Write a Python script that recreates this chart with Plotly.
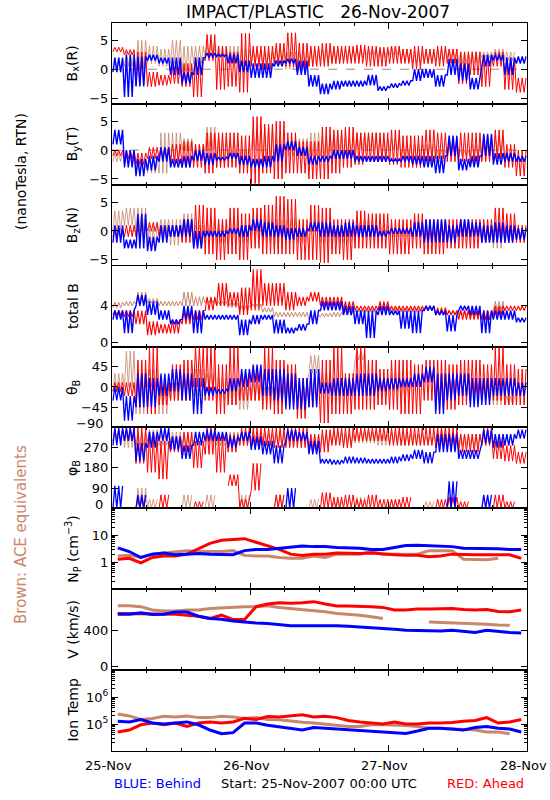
import plotly.graph_objects as go
from plotly.subplots import make_subplots

# ---------------- data (2-hour bins starting 25-Nov-2007 00:00 UTC) ----------------
BIN_HOURS = 2
TICK_HOURS = [0, 24, 48, 72]
TICK_LABELS = ["25-Nov", "26-Nov", "27-Nov", "28-Nov"]

# Bx(R)
bx_red_lo = [3.0, 2.5, -2.8, -3.0, -2.8, -2.5, -3.0, -4.8, 1.5, -3.5, -3.0, -4.0, 0.5, 0.0, 1.0, 0.5, 0.0, 0.5,
             0.5, 1.0, 1.0, 1.0, 0.5, 0.5, 1.0, 1.0, 0.0, 1.0, 0.5, 1.0, -2.5, -1.0, -3.0, 0.5, -3.5, -4.0]
bx_red_hi = [3.8, 3.4, 3.0, -0.5, -1.0, 0.5, 1.0, 2.0, 6.0, 4.0, 3.0, 6.2, 4.0, 4.0, 4.5, 6.3, 4.5, 4.0,
             4.5, 4.0, 4.0, 4.2, 4.0, 3.8, 4.0, 3.5, 4.0, 3.5, 4.0, 3.5, 3.0, 3.0, 2.5, 3.0, 2.0, -1.5]
bx_blue_lo = [-0.5, -4.8, -3.0, 1.5, 1.0, -1.0, -2.5, -1.0, 2.0, 2.2, 1.0, -0.5, -1.5, -1.5, 0.5, 1.0, -1.0, -3.0,
              -4.3, -3.5, -3.0, -3.0, -2.8, -3.7, -3.2, -2.8, -2.0, -1.5, -3.0, -1.0, -2.0, -3.5, 0.5, 1.5, -1.0, 1.0]
bx_blue_hi = [2.0, 2.5, 2.2, 2.5, 2.0, 2.0, -0.5, 2.0, 2.8, 2.6, 2.6, 1.5, 1.0, 1.0, 1.5, 1.8, 1.5, -1.0,
              -2.5, -2.0, -2.0, -2.0, -1.0, -3.0, -2.5, -2.0, 0.0, 0.0, -1.0, 1.8, 1.0, -1.5, 2.5, 2.5, 2.0, 2.2]
bx_brown_lo = [-0.5, 0.5, 0.0, 1.0, 0.5, 1.0, -0.5, 1.0, 2.0, 2.0, 1.5, 0.5, 1.0, 0.0, 0.5, 0.0, 0.0, 0.5,
               1.5, 1.0, 1.5, 2.0, 2.5, 2.0, 2.5, 1.5, 1.0, 1.0, 1.5, 2.0, 1.0, 1.0, 2.0, 2.0, 1.5, None]
bx_brown_hi = [2.0, 3.0, 5.0, 4.0, 3.5, 5.0, 4.0, 4.0, 4.5, 4.0, 4.0, 3.5, 3.5, 3.0, 3.5, 3.0, 3.0, 3.5,
               3.5, 3.5, 3.5, 3.5, 3.5, 3.5, 4.0, 3.5, 3.0, 3.0, 3.5, 3.5, 3.0, 3.0, 3.0, 3.5, 3.0, None]

# By(T)
by_red_lo = [-1.0, -1.5, -2.5, -1.5, -1.5, -2.0, -3.0, -3.0, -4.0, -3.0, -3.0, -4.0, -5.8, -4.0, -5.0, -4.0, -4.0, -5.0,
             -5.0, -4.0, -3.0, -2.5, -2.0, -2.0, -2.5, -3.0, -3.0, -2.0, -1.5, -2.0, -2.0, -2.5, -2.0, -1.5, -3.0, -4.5]
by_red_hi = [0.0, 0.0, -0.5, 0.5, 0.5, 1.0, 1.5, 1.0, 3.0, 3.0, 3.0, 2.5, 5.8, 4.5, 5.0, 3.0, 1.5, 1.5,
             4.0, 3.5, 4.0, 3.0, 3.0, 3.0, 3.5, 2.5, 2.5, 3.5, 3.0, 2.0, 3.0, 3.0, 2.5, 3.5, 1.0, 0.0]
by_blue_lo = [1.0, -3.0, -4.5, -3.5, -2.0, -3.0, -3.0, -1.8, -2.5, -1.8, -1.5, -2.5, -3.0, -3.0, -2.0, 0.0, -1.0, -2.5,
              -2.0, -1.5, -1.5, -2.0, -2.0, -2.0, -2.0, -2.0, -2.5, -3.0, -4.0, -1.0, -3.5, -3.0, -1.0, -2.5, -2.0, -2.0]
by_blue_hi = [3.5, 0.0, -1.5, -1.0, 0.5, -1.5, -1.0, 0.0, -0.5, -1.2, -0.5, -1.0, -1.5, -1.0, 1.0, 1.5, 0.5, -1.0,
              -1.0, 0.0, 0.0, -1.0, -1.0, -1.0, -1.5, -1.0, -1.0, -1.0, -1.0, 2.5, -1.5, -1.0, 2.8, -0.5, -0.5, -1.0]
by_brown_lo = [-2.0, -2.5, -4.0, -4.0, -4.0, -3.0, 0.0, -2.0, 0.0, -3.0, -2.0, -3.0, 0.0, -2.0, -1.0, -1.0, -1.0, -1.0,
               -1.0, 0.0, -1.0, 0.0, 0.0, -1.0, 0.0, -1.0, -2.0, -1.0, -2.0, -1.0, -1.0, -1.0, -1.5, -1.0, -2.0, None]
by_brown_hi = [-0.5, -1.0, -2.0, -1.0, 3.0, 3.0, 2.0, 1.0, 4.0, 2.0, 1.5, 0.0, 3.5, 4.0, 2.0, 2.0, 2.0, 3.0,
               2.5, 3.0, 2.0, 3.0, 3.0, 2.0, 2.0, 1.0, 1.0, 1.0, 0.0, 2.0, 0.0, 1.0, 1.0, 2.5, -1.0, None]

# Bz(N)
bz_red_lo = [-1.0, -1.0, -1.0, 0.0, -1.0, -1.0, -2.0, -3.0, -4.0, -5.0, -4.0, -5.0, -3.0, -4.0, -4.0, -4.0, -5.0, -5.0,
             -5.5, -4.0, -5.0, -3.0, -3.0, -3.0, -4.0, -4.0, -3.0, -4.0, -4.0, -3.0, -3.0, -3.0, -2.0, -2.0, -2.0, -2.0]
bz_red_hi = [0.5, 1.0, 1.0, 1.5, 1.0, 1.0, 2.0, 4.5, 4.0, 2.0, 4.0, 3.0, 4.0, 4.5, 6.0, 5.5, 2.0, 4.5,
             4.0, 2.0, 2.0, 3.5, 3.0, 3.0, 2.0, 2.0, 3.0, 2.0, 2.0, 2.0, 2.0, 2.0, 2.0, 4.0, 3.0, 1.0]
bz_blue_lo = [-2.0, -3.0, -3.0, -3.5, -2.0, -1.0, -1.0, -3.0, -1.0, -1.0, -0.5, -1.0, 0.0, -1.0, -1.0, -1.5, -1.0, 0.0,
              -1.0, -1.0, -1.0, -1.0, -1.0, -1.0, -0.5, -0.5, -1.0, -2.0, -2.0, -2.0, -1.0, -1.0, -2.0, -2.0, -2.0, -1.5]
bz_blue_hi = [1.0, -1.5, 3.0, -1.0, 1.0, 1.0, 2.0, 0.0, 0.0, 0.0, 0.5, 1.0, 2.0, 1.5, 1.0, 0.5, 0.5, 1.5,
              1.5, 1.0, 1.5, 1.0, 1.0, 0.0, 0.5, 0.5, 1.5, 2.0, 2.0, 1.0, 2.0, 1.5, 1.0, 1.5, 1.0, 0.5]
bz_brown_lo = [0.0, 1.0, 0.0, -3.0, 0.0, -2.5, 0.0, -2.0, -2.0, -2.0, -2.0, -2.0, -1.0, -2.0, -3.0, -2.0, -2.0, 0.0,
               -2.0, -2.0, -2.0, 0.0, -1.0, -1.0, -1.0, -1.0, -1.0, -2.0, -1.0, -1.0, 0.0, -1.0, -2.0, -3.0, -2.0, None]
bz_brown_hi = [3.5, 4.0, 4.0, 1.0, 2.0, 2.0, 3.0, 1.0, 2.0, 2.0, 2.0, 1.0, 2.0, 2.0, 2.0, 2.0, 1.0, 2.0,
               2.0, 1.0, 1.0, 2.0, 2.0, 1.0, 1.0, 1.0, 2.0, 1.0, 2.0, 1.0, 2.0, 1.0, 0.0, 1.0, 0.0, None]

# total B
bt_red_lo = [3.0, 2.8, 2.0, 0.8, 1.0, 1.0, 2.0, 2.5, 3.5, 4.0, 4.0, 3.0, 3.5, 4.0, 4.0, 3.5, 4.0, 4.5,
             4.0, 4.0, 3.5, 3.5, 3.5, 3.5, 3.5, 3.5, 3.5, 3.5, 3.0, 3.0, 2.5, 2.5, 2.5, 3.0, 3.5, 3.5]
bt_red_hi = [3.5, 3.5, 3.5, 2.3, 2.0, 2.5, 3.5, 3.5, 5.0, 6.5, 5.5, 6.0, 8.0, 6.5, 6.5, 5.5, 5.0, 5.5,
             5.0, 5.0, 4.5, 4.0, 4.0, 4.5, 4.0, 4.0, 4.0, 4.0, 3.8, 3.5, 3.5, 3.5, 3.5, 4.0, 4.0, 4.0]
bt_blue_lo = [2.5, 1.0, 4.0, 3.0, 2.5, 2.0, 2.5, 1.0, 2.5, 2.5, 2.5, 0.8, 2.0, 2.5, 1.0, 1.0, 1.3, 2.0,
              3.5, 3.5, 3.0, 2.0, 0.5, 3.0, 3.0, 1.5, 1.0, 3.5, 3.0, 1.2, 3.5, 3.0, 1.0, 2.5, 2.5, 2.2]
bt_blue_hi = [3.5, 3.5, 5.2, 4.5, 3.5, 2.5, 4.0, 3.5, 3.0, 3.0, 3.0, 2.5, 3.0, 3.0, 2.5, 1.6, 2.0, 3.5,
              4.5, 4.5, 4.0, 3.5, 3.5, 4.0, 3.5, 3.5, 3.5, 4.0, 3.5, 3.0, 4.0, 4.0, 3.5, 3.5, 3.5, 2.7]
bt_brown_lo = [3.8, 4.0, 4.2, 4.3, 4.0, 4.0, 4.0, 4.0, 4.3, 4.0, 3.8, 3.5, 3.8, 3.3, 2.8, 2.8, 2.8, 2.5,
               2.8, 2.8, 3.0, 3.3, 3.3, 3.5, 3.3, 3.3, 3.3, 3.5, 3.0, 3.0, 3.0, 2.8, 2.5, 3.5, 2.8, None]
bt_brown_hi = [4.4, 4.5, 5.5, 4.8, 4.5, 4.5, 5.5, 5.0, 4.8, 4.5, 4.3, 4.0, 4.2, 3.8, 3.3, 3.3, 3.3, 3.0,
               3.2, 3.3, 3.5, 3.6, 3.7, 4.0, 3.8, 3.7, 3.7, 4.0, 3.5, 3.5, 3.5, 3.2, 3.0, 4.5, 3.3, None]

# theta_B (deg)
th_red_lo = [-10, -20, -45, -60, -40, -30, -30, 0, -30, -60, -40, -30, -30, -50, -60, -40, -70, -45,
             -80, -60, -60, -50, -50, -40, -50, -60, -60, -30, -50, -50, -40, -30, -30, -30, -40, -40]
th_red_hi = [10, 10, 60, 88, 10, 50, 60, 88, 88, 50, 88, 30, 40, 88, 60, 50, 20, 30,
             60, 88, 30, 88, 60, 40, 60, 60, 50, 60, 60, 50, 60, 60, 50, 88, 50, 40]
th_blue_lo = [-30, -75, -45, -45, -20, -10, -30, -60, -20, -15, -10, 0, 10, -20, -30, -50, -50, -45,
              -15, -20, -20, -20, -20, -10, -5, 0, 0, 10, -60, -30, -20, -45, -40, -20, -20, -20]
th_blue_hi = [0, -20, 30, 20, 30, 40, 30, 20, 0, -5, 20, 40, 50, 40, 40, 30, 20, 40,
              10, 20, 20, 30, 30, 20, 20, 20, 30, 45, 30, 30, 30, 20, 20, 20, 20, 10]
th_brown_lo = [-10, 0, -60, 0, -60, -30, -10, -20, 0, -30, -40, -50, -30, -40, -40, -30, -30, 30,
               0, -40, -20, 60, -20, -20, -10, -20, 0, 10, -20, -10, -20, -20, -30, -40, -40, None]
th_brown_hi = [30, 80, 40, 40, 10, 10, 30, 40, 30, 20, 10, 0, 10, 0, 0, 0, 10, 70,
               30, 10, 20, 80, 20, 20, 30, 20, 30, 40, 20, 30, 20, 20, 10, 0, -20, None]

# phi_B (deg)
ph_red_lo = [300, 300, 200, 160, 130, 250, 250, 180, 240, 160, 250, 280, 270, 280, 270, 270, 270, 250,
             250, 280, 270, 300, 300, 300, 280, 280, 280, 280, 270, 260, 250, 250, 280, 220, 210, 200]
ph_red_hi = [350, 358, 358, 320, 300, 320, 340, 300, 358, 320, 330, 358, 358, 358, 358, 358, 358, 330,
             350, 358, 358, 358, 358, 358, 358, 358, 358, 358, 358, 358, 330, 330, 358, 300, 280, 250]
ph_red_low_lo = [None, None, 0, None, 0, None, None, 0, None, None, 100, 0, 80, None, 0, None, None, None,
                 0, 0, 0, 0, 0, 0, 0, 0, None, None, 0, 0, 0, None, None, 0, 0, None]
ph_red_low_hi = [None, None, 40, None, 60, None, None, 30, None, None, 150, 40, 200, None, 60, None, None, None,
                 70, 50, 60, 40, 60, 40, 40, 50, None, None, 40, 50, 30, None, None, 60, 30, None]
ph_blue_lo = [280, 300, 210, 270, 300, 260, 220, 280, 300, 300, 270, 300, 260, 240, 200, 300, 300, 240,
              200, 195, 200, 200, 200, 200, 200, 210, 220, 200, 250, 250, 220, 220, 290, 270, 280, 310]
ph_blue_hi = [358, 358, 290, 340, 358, 320, 280, 340, 350, 340, 320, 340, 320, 300, 280, 350, 340, 300,
              220, 215, 230, 225, 220, 220, 230, 240, 260, 250, 330, 330, 260, 260, 350, 330, 330, 350]
ph_blue_low_lo = [0, None, 0, None, None, None, None, None, None, None, None, None, None, None, None, 0, None, None,
                  None, None, None, None, None, None, None, None, None, None, None, 0, None, None, 0, None, None, None]
ph_blue_low_hi = [100, None, 60, None, None, None, None, None, None, None, None, None, None, None, None, 90, None, None,
                  None, None, None, None, None, None, None, None, None, None, None, 120, None, None, 60, None, None, None]
ph_brown_lo = [300, 270, 280, 300, 280, 290, 280, 280, 290, 280, 280, 280, 290, 280, 280, 280, 290, 270,
               280, 290, 280, 290, 290, 280, 290, 280, 280, 290, 300, 290, 280, 280, 280, 280, 280, None]
ph_brown_hi = [350, 340, 340, 350, 340, 340, 330, 340, 340, 330, 340, 330, 340, 330, 330, 340, 340, 320,
               330, 340, 330, 340, 340, 330, 340, 330, 330, 320, 358, 340, 330, 330, 330, 330, 330, None]
ph_brown_low_lo = [None, None, 0, 0, None, None, 0, None, 0, None, None, 0, None, None, 0, None, None, 0,
                   None, 0, None, 0, None, None, 0, None, None, 0, None, None, None, None, None, None, None, None]
ph_brown_low_hi = [None, None, 90, 40, None, None, 60, None, 60, None, None, 60, None, None, 60, None, None, 40,
                   None, 30, None, 50, None, None, 40, None, None, 30, None, None, None, None, None, None, None, None]

# proton density (cm^-3)
np_blue = [3.4, 2.5, 1.5, 2.0, 2.2, 1.9, 2.0, 2.1, 2.0, 2.0, 1.9, 2.7, 3.0, 3.0, 3.3, 3.7, 4.0, 3.8,
           3.8, 3.5, 3.5, 3.3, 3.0, 3.0, 3.5, 4.2, 4.3, 4.2, 4.0, 3.8, 3.3, 3.3, 3.3, 3.2, 3.0, 3.0]
np_red = [1.3, 1.4, 0.95, 1.5, 1.7, 1.7, 2.0, 3.2, 5.0, 6.5, 7.0, 7.5, 5.5, 4.0, 3.0, 2.0, 1.8, 2.0,
          2.0, 2.2, 2.1, 2.1, 2.2, 2.0, 1.9, 1.8, 1.8, 1.6, 1.7, 2.0, 1.9, 1.9, 1.9, 1.9, 1.9, 1.4]
np_brown = [1.7, 1.8, 1.5, 2.0, 2.2, 2.5, 2.7, 2.5, 2.5, 2.5, 2.7, 1.8, 1.7, 1.7, 1.5, 1.4, 1.4, 1.7,
            1.5, 2.0, 2.0, 2.0, 2.5, 2.0, 2.0, 2.0, 2.0, 2.7, 2.7, 2.7, 1.3, 1.3, 1.25, 1.4, None, None]

# bulk speed (km/s)
v_blue = [577, 577, 592, 573, 577, 600, 600, 555, 529, 522, 503, 488, 481, 474, 459, 451, 451, 451,
          459, 451, 444, 437, 429, 422, 411, 400, 396, 400, 392, 400, 392, 377, 400, 385, 377, 370]
v_red = [585, 585, 577, 577, 577, 577, 566, 555, 529, 566, 518, 518, 659, 688, 703, 696, 703, 714,
         688, 666, 666, 666, 659, 651, 622, 622, 633, 633, 640, 640, 629, 622, 629, 607, 603, 622]
v_brown = [670, 670, 659, 622, 611, 611, 622, 622, 640, 648, 659, 659, 659, 670, 651, 640, 622, 611,
           603, 585, 577, 566, 548, 529, None, None, None, 492, 488, 481, 477, 474, 466, 459, 455, None]

# ion temperature (K)
t_blue = [1.27e5, 1.2e5, 1.48e5, 1.09e5, 1.0e5, 1.09e5, 1.2e5, 0.94e5, 0.6e5, 0.44e5, 0.48e5, 1.09e5,
          1.09e5, 0.9e5, 0.78e5, 0.7e5, 0.6e5, 0.74e5, 0.7e5, 0.65e5, 0.6e5, 0.58e5, 0.55e5, 0.51e5,
          0.48e5, 0.45e5, 0.55e5, 0.7e5, 0.7e5, 0.65e5, 0.6e5, 0.74e5, 0.81e5, 0.7e5, 0.65e5, 0.51e5]
t_red = [0.51e5, 0.6e5, 0.94e5, 1.09e5, 0.94e5, 1.09e5, 0.81e5, 1.09e5, 1.2e5, 1.09e5, 1.2e5, 1.62e5,
         1.48e5, 1.89e5, 1.83e5, 2.0e5, 2.2e5, 1.83e5, 1.95e5, 1.73e5, 1.35e5, 1.2e5, 1.09e5, 1.0e5,
         1.2e5, 1.0e5, 1.0e5, 1.09e5, 1.09e5, 1.13e5, 1.27e5, 1.35e5, 1.73e5, 1.09e5, 1.2e5, 1.48e5]
t_brown = [2.34e5, 2.0e5, 1.48e5, 1.62e5, 1.95e5, 1.83e5, 2.0e5, 1.73e5, 1.73e5, 1.95e5, 1.83e5, 1.62e5,
           1.73e5, 1.48e5, 1.44e5, 1.27e5, 1.16e5, 1.09e5, 1.0e5, 0.89e5, 0.81e5, 0.81e5, 0.94e5, 0.94e5,
           0.94e5, 0.89e5, 0.81e5, 0.7e5, 0.7e5, 0.67e5, 0.65e5, 0.6e5, 0.51e5, 0.51e5, 0.44e5, None]

# ---------------- styling ----------------
BROWN = "#c8866b"
RED = "#ff0000"
BLUE = "#0000ff"
FONT = "DejaVu Sans"

W, H = 550, 800
ML, MR, MT, MB = 112, 23, 23, 49
NROWS = 9
STROKES_PER_BIN = 6   # vertical strokes used to draw each bin's min-max range


def hatch(lo, hi):
    """Draw each bin's [lo, hi] range as a run of near-vertical strokes."""
    xs, ys = [], []
    for i, (a, b) in enumerate(zip(lo, hi)):
        if a is None or b is None:
            xs.append(None)
            ys.append(None)
            continue
        t0 = i * BIN_HOURS
        for j in range(STROKES_PER_BIN):
            xs.append(t0 + (j + 0.5) * BIN_HOURS / STROKES_PER_BIN)
            ys.append(a if j % 2 == 0 else b)
    return xs, ys


def centres(vals):
    return [i * BIN_HOURS + BIN_HOURS / 2 for i in range(len(vals))]


fig = make_subplots(rows=NROWS, cols=1, shared_xaxes=True, vertical_spacing=0)


def add_band(row, lo, hi, color, width=1.0):
    xs, ys = hatch(lo, hi)
    fig.add_trace(go.Scatter(x=xs, y=ys, mode="lines", line=dict(color=color, width=width),
                             connectgaps=False, showlegend=False, hoverinfo="skip"), row=row, col=1)


def add_line(row, vals, color, width=3):
    fig.add_trace(go.Scatter(x=centres(vals), y=vals, mode="lines", line=dict(color=color, width=width),
                             connectgaps=False, showlegend=False, hoverinfo="skip"), row=row, col=1)


# panels 1-3: field components
for row, (bl, bh, rl, rh, ul, uh) in enumerate([
        (bx_brown_lo, bx_brown_hi, bx_red_lo, bx_red_hi, bx_blue_lo, bx_blue_hi),
        (by_brown_lo, by_brown_hi, by_red_lo, by_red_hi, by_blue_lo, by_blue_hi),
        (bz_brown_lo, bz_brown_hi, bz_red_lo, bz_red_hi, bz_blue_lo, bz_blue_hi)], start=1):
    add_band(row, bl, bh, BROWN, 0.8)
    add_band(row, rl, rh, RED, 1.0)
    add_band(row, ul, uh, BLUE, 1.4)

add_band(4, bt_brown_lo, bt_brown_hi, BROWN, 1.0)
add_band(4, bt_red_lo, bt_red_hi, RED, 1.1)
add_band(4, bt_blue_lo, bt_blue_hi, BLUE, 1.4)

add_band(5, th_brown_lo, th_brown_hi, BROWN, 0.8)
add_band(5, th_red_lo, th_red_hi, RED, 1.0)
add_band(5, th_blue_lo, th_blue_hi, BLUE, 1.3)

add_band(6, ph_brown_lo, ph_brown_hi, BROWN, 0.8)
add_band(6, ph_brown_low_lo, ph_brown_low_hi, BROWN, 0.8)
add_band(6, ph_red_lo, ph_red_hi, RED, 1.0)
add_band(6, ph_red_low_lo, ph_red_low_hi, RED, 1.0)
add_band(6, ph_blue_lo, ph_blue_hi, BLUE, 1.3)
add_band(6, ph_blue_low_lo, ph_blue_low_hi, BLUE, 1.3)

add_line(7, np_brown, BROWN)
add_line(7, np_red, RED)
add_line(7, np_blue, BLUE)

add_line(8, v_brown, BROWN)
add_line(8, v_red, RED)
add_line(8, v_blue, BLUE)

add_line(9, t_brown, BROWN)
add_line(9, t_red, RED)
add_line(9, t_blue, BLUE)

# ---------------- axes ----------------
tick_font = dict(family=FONT, size=13, color="black")
for r in range(1, NROWS + 1):
    fig.update_xaxes(row=r, col=1, range=[TICK_HOURS[0], TICK_HOURS[-1]], tickvals=TICK_HOURS,
                     ticks="inside", ticklen=6, tickcolor="black",
                     minor=dict(dtick=6, tick0=0, ticks="inside", ticklen=3, tickcolor="black"),
                     showline=True, linecolor="black", linewidth=1, mirror="ticks",
                     showgrid=False, zeroline=False, showticklabels=False)

yspecs = [
    dict(range=[-6, 8], tickvals=[-5, 0, 5], ticktext=["\u22125", "0", "5"]),
    dict(range=[-6, 8], tickvals=[-5, 0, 5], ticktext=["\u22125", "0", "5"]),
    dict(range=[-6, 8], tickvals=[-5, 0, 5], ticktext=["\u22125", "0", "5"]),
    dict(range=[-0.45, 8.4], tickvals=[0, 4], ticktext=["0", "4"]),
    dict(range=[-90, 90], tickvals=[-90, -45, 0, 45], ticktext=["", "\u221245", "0", "45"]),
    dict(range=[0, 360], tickvals=[0, 90, 180, 270], ticktext=["", "90", "180", "270"]),
    dict(type="log", range=[-1, 2], tickvals=[1, 10], ticktext=["1", "10"]),
    dict(range=[-35, 850], tickvals=[0, 400], ticktext=["0", "400"]),
    dict(type="log", range=[4, 7], tickvals=[1e5, 1e6], ticktext=["10<sup>5</sup>", "10<sup>6</sup>"]),
]
for r, spec in enumerate(yspecs, start=1):
    extra = {}
    if spec.get("type") == "log":
        extra["minor"] = dict(ticks="inside", ticklen=3, tickcolor="black", dtick="D1")
    fig.update_yaxes(row=r, col=1, ticks="inside", ticklen=6, tickcolor="black",
                     showline=True, linecolor="black", linewidth=1, mirror="ticks",
                     showgrid=False, zeroline=False, tickfont=tick_font, **spec, **extra)

# dashed zero reference lines for the field components
for r in (1, 2, 3):
    yref = "y" if r == 1 else f"y{r}"
    fig.add_shape(type="line", xref="paper", x0=0, x1=1, yref=yref, y0=0, y1=0,
                  line=dict(color="#a08878", width=1, dash="dash"), layer="below")

# ---------------- text ----------------
def px_x(px):
    return (px - ML) / (W - ML - MR)


def px_y(py):
    return (H - MB - py) / (H - MT - MB)


ytitles = ["B<sub>x</sub>(R)", "B<sub>y</sub>(T)", "B<sub>z</sub>(N)", "total B", "\u03b8<sub>B</sub>",
           "\u03c6<sub>B</sub>", "N<sub>P</sub> (cm<sup>\u22123</sup>)", "V (km/s)", "Ion Temp"]
annotations = []
for k, t in enumerate(ytitles):
    annotations.append(dict(text=t, xref="paper", yref="paper", x=px_x(73), y=1 - (k + 0.5) / NROWS,
                            xanchor="center", yanchor="middle", textangle=-90, showarrow=False,
                            font=dict(family=FONT, size=14, color="black")))

# axis-edge tick labels nudged inside the panel (as in the reference)
annotations += [
    dict(text="\u221290", xref="paper", yref="y5", x=px_x(105), y=-90, xanchor="right", yanchor="middle",
         yshift=4, showarrow=False, font=tick_font),
    dict(text="0", xref="paper", yref="y6", x=px_x(105), y=0, xanchor="right", yanchor="middle",
         yshift=4, showarrow=False, font=tick_font),
]

# date labels under the bottom panel
for h, lab in zip(TICK_HOURS, TICK_LABELS):
    annotations.append(dict(text=lab, xref="x9", yref="paper", x=h, y=px_y(765), xanchor="center",
                            yanchor="middle", xshift=-4, showarrow=False, font=tick_font))

annotations += [
    dict(text="IMPACT/PLASTIC\u00a0\u00a0\u00a026-Nov-2007", xref="paper", yref="paper",
         x=px_x(318), y=px_y(12), xanchor="center", yanchor="middle", showarrow=False,
         font=dict(family=FONT, size=17, color="black")),
    dict(text="(nanoTesla, RTN)", xref="paper", yref="paper", x=px_x(21), y=px_y(172),
         xanchor="center", yanchor="middle", textangle=-90, showarrow=False,
         font=dict(family=FONT, size=14, color="black")),
    dict(text="Brown: ACE equivalents", xref="paper", yref="paper", x=px_x(21), y=px_y(535),
         xanchor="center", yanchor="middle", textangle=-90, showarrow=False,
         font=dict(family=FONT, size=15, color=BROWN)),
    dict(text="BLUE: Behind", xref="paper", yref="paper", x=px_x(112), y=px_y(783),
         xanchor="left", yanchor="middle", showarrow=False,
         font=dict(family=FONT, size=13, color=BLUE)),
    dict(text="Start: 25-Nov-2007 00:00 UTC", xref="paper", yref="paper", x=px_x(319), y=px_y(783),
         xanchor="center", yanchor="middle", showarrow=False,
         font=dict(family=FONT, size=13, color="black")),
    dict(text="RED: Ahead", xref="paper", yref="paper", x=px_x(526), y=px_y(783),
         xanchor="right", yanchor="middle", showarrow=False,
         font=dict(family=FONT, size=13, color=RED)),
]

fig.update_layout(width=W, height=H, margin=dict(l=ML, r=MR, t=MT, b=MB),
                  paper_bgcolor="white", plot_bgcolor="white", showlegend=False,
                  annotations=annotations, font=dict(family=FONT))

fig.write_html("out.html", config={"displayModeBar": False},
               post_script="document.body.style.margin='0';document.body.style.overflow='hidden';")
